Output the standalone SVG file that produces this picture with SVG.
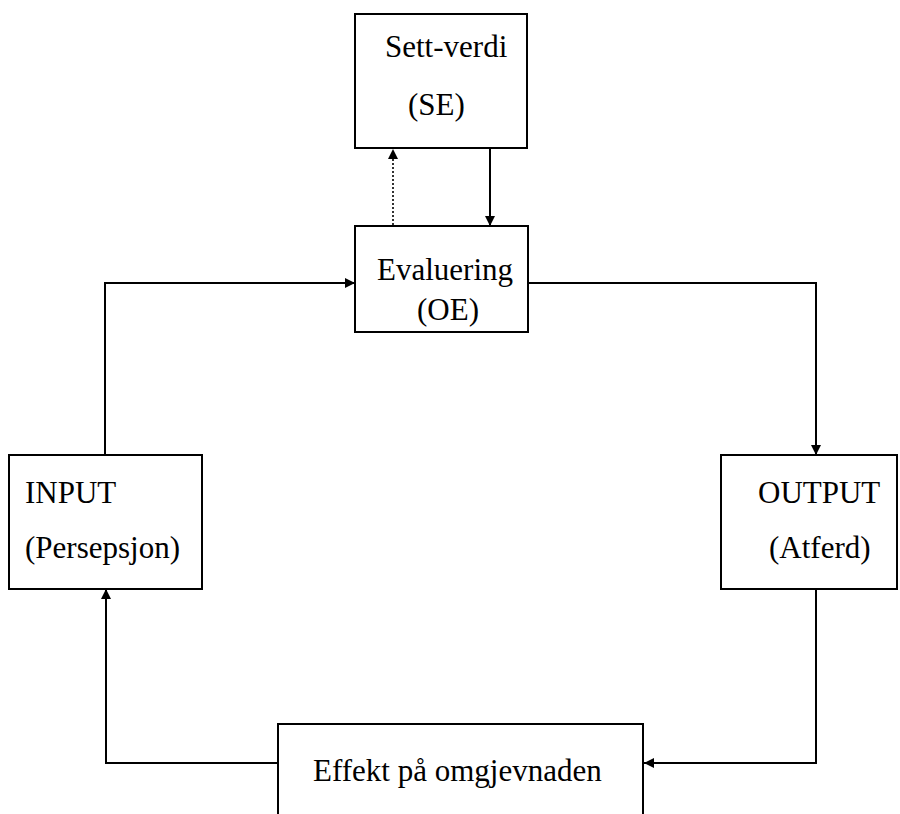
<svg xmlns="http://www.w3.org/2000/svg" width="900" height="814" viewBox="0 0 900 814">
<style>
.box{fill:#fff;stroke:#000;stroke-width:2}
.t{font-family:"Liberation Serif","Times New Roman",serif;font-size:31px;fill:#000}
.c{fill:none;stroke:#000;stroke-width:2}
.d{fill:none;stroke:#000;stroke-width:1.6;stroke-dasharray:2 2}
</style>
<defs>
<marker id="ah" viewBox="0 0 10 10" refX="10" refY="5" markerWidth="10" markerHeight="10" markerUnits="userSpaceOnUse" orient="auto">
<path d="M0,0 L10,5 L0,10 Z" fill="#000"/>
</marker>
</defs>
<rect width="900" height="814" fill="#fff"/>
<g id="connectors">
<path class="d" d="M393,225 V149" marker-end="url(#ah)"/>
<path class="c" d="M490,148 V226" marker-end="url(#ah)"/>
<path class="c" d="M105,455 V283 H355" marker-end="url(#ah)"/>
<path class="c" d="M528,283 H816 V455" marker-end="url(#ah)"/>
<path class="c" d="M816,589 V763 H644" marker-end="url(#ah)"/>
<path class="c" d="M278,763 H106 V589" marker-end="url(#ah)"/>
</g>
<g id="sett-verdi">
<rect class="box" x="355" y="14" width="172" height="134"/>
<text class="t" x="385" y="57">Sett-verdi</text>
<text class="t" x="408" y="115">(SE)</text>
</g>
<g id="evaluering">
<rect class="box" x="355" y="226" width="173" height="106"/>
<text class="t" x="377" y="280">Evaluering</text>
<text class="t" x="417" y="320">(OE)</text>
</g>
<g id="input">
<rect class="box" x="9" y="455" width="193" height="134"/>
<text class="t" x="25" y="503">INPUT</text>
<text class="t" x="25" y="558">(Persepsjon)</text>
</g>
<g id="output">
<rect class="box" x="721" y="455" width="176" height="134"/>
<text class="t" x="758" y="503">OUTPUT</text>
<text class="t" x="769" y="558">(Atferd)</text>
</g>
<g id="effekt">
<rect class="box" x="278" y="724" width="365" height="100"/>
<text class="t" x="313" y="781">Effekt på omgjevnaden</text>
</g>
</svg>
